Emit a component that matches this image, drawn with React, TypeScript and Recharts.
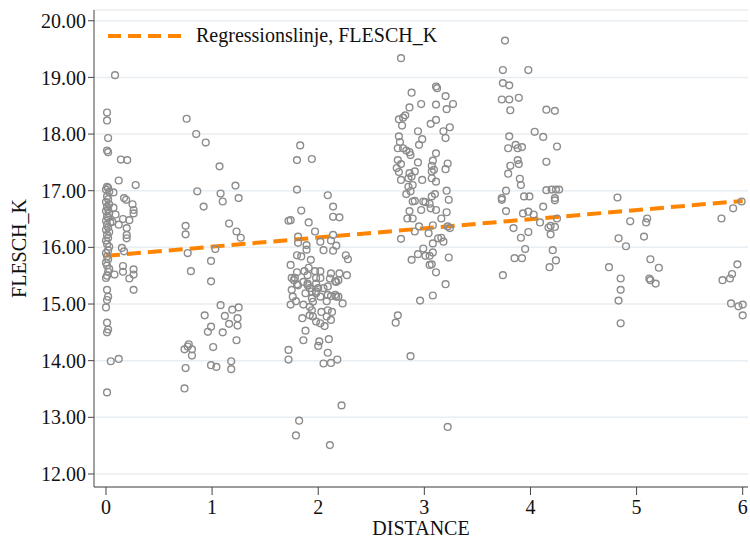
import React from 'react';
import {
  CartesianGrid,
  Legend,
  ReferenceLine,
  Scatter,
  ScatterChart,
  XAxis,
  YAxis,
} from 'recharts';

// [DISTANCE, FLESCH_K], grouped by distance band
const dist0: [number, number][] = [
  [0.01, 18.38], [0.01, 18.24], [0.02, 17.93], [0.01, 17.71], [0.02, 17.68],
  [0.01, 17.07], [0.02, 17.05], [0.0, 17.02], [0.03, 16.98], [0.01, 16.9],
  [0.02, 16.85], [0.0, 16.8], [0.03, 16.76], [0.01, 16.72], [0.02, 16.67],
  [0.0, 16.64], [0.03, 16.6], [0.01, 16.55], [0.02, 16.52], [0.0, 16.47],
  [0.04, 16.44], [0.01, 16.4], [0.02, 16.35], [0.0, 16.31], [0.03, 16.27],
  [0.01, 16.22], [0.02, 16.17], [0.0, 16.12], [0.01, 16.06], [0.03, 16.01],
  [0.02, 15.95], [0.0, 15.9], [0.01, 15.84], [0.02, 15.79], [0.0, 15.73],
  [0.01, 15.68], [0.03, 15.62], [0.02, 15.57], [0.01, 15.5], [0.0, 15.46],
  [0.01, 15.25], [0.02, 15.13], [0.01, 15.07], [0.0, 14.94], [0.01, 14.67],
  [0.02, 14.55], [0.01, 14.5], [0.01, 13.44],
  [0.085, 19.04], [0.14, 17.55], [0.2, 17.54], [0.12, 17.18], [0.28, 17.1],
  [0.07, 16.97], [0.17, 16.87], [0.19, 16.84], [0.25, 16.76], [0.26, 16.66],
  [0.26, 16.6], [0.07, 16.7], [0.22, 16.48], [0.16, 16.5], [0.195, 16.34],
  [0.195, 16.22], [0.195, 16.16], [0.09, 16.58], [0.12, 16.4], [0.06, 16.45],
  [0.15, 15.99], [0.17, 15.93], [0.16, 15.67], [0.16, 15.57], [0.26, 15.61],
  [0.26, 15.52], [0.22, 15.45], [0.08, 15.52], [0.26, 15.25], [0.045, 13.99],
  [0.12, 14.03],
];

const dist1: [number, number][] = [
  [0.76, 18.27], [0.85, 18.0], [0.94, 17.85], [1.07, 17.43], [0.86, 16.99],
  [1.08, 16.95], [1.1, 16.81], [1.22, 17.09], [1.25, 16.87], [0.92, 16.72],
  [0.75, 16.38], [0.75, 16.23], [1.16, 16.42], [1.23, 16.28], [1.27, 16.17],
  [0.77, 15.9], [1.03, 15.97], [0.99, 15.76], [0.8, 15.58], [0.99, 15.4],
  [1.08, 14.98], [0.93, 14.8], [1.19, 14.9], [1.25, 14.94], [1.12, 14.79],
  [1.24, 14.75], [1.24, 14.62], [1.16, 14.65], [0.99, 14.6], [0.96, 14.51],
  [1.1, 14.5], [1.01, 14.24], [1.23, 14.36], [0.78, 14.29], [0.77, 14.25],
  [0.74, 14.2], [0.81, 14.2], [0.81, 14.09], [0.75, 13.87], [0.74, 13.51],
  [0.99, 13.92], [1.04, 13.89], [1.18, 13.99], [1.18, 13.85],
];

const dist2: [number, number][] = [
  [1.83, 17.8], [1.8, 17.54], [1.94, 17.56], [1.8, 17.02], [2.09, 16.92],
  [2.14, 16.72], [2.14, 16.54], [2.2, 16.53], [1.84, 16.65], [1.74, 16.48],
  [1.91, 16.44], [1.97, 16.28], [1.81, 16.19], [1.81, 16.08], [1.89, 16.04],
  [1.89, 15.96], [2.02, 16.1], [2.12, 16.12], [2.14, 16.22], [2.17, 16.03],
  [2.05, 15.95], [2.14, 15.94], [2.26, 15.86], [2.28, 15.79], [1.8, 15.86],
  [1.84, 15.84], [1.93, 15.78],
  [1.74, 15.69], [1.8, 15.56], [1.75, 15.46], [1.78, 15.46], [1.8, 15.35],
  [1.75, 15.25], [1.76, 15.13], [1.87, 15.58], [1.91, 15.64], [1.9, 15.51],
  [1.97, 15.58], [2.02, 15.58], [1.98, 15.46], [2.02, 15.46], [1.86, 15.39],
  [1.9, 15.36], [1.92, 15.28], [1.94, 15.22], [1.98, 15.22], [2.05, 15.28],
  [2.12, 15.54], [2.2, 15.54], [2.27, 15.51], [2.11, 15.45], [2.17, 15.39],
  [2.09, 15.31], [2.16, 15.16], [2.19, 15.13],
  [1.74, 14.99], [1.79, 15.05], [1.86, 14.99], [1.88, 15.19], [1.9, 15.33],
  [1.94, 15.1], [1.95, 15.04], [1.92, 14.95], [1.94, 14.89], [1.98, 15.19],
  [2.02, 15.13], [1.95, 14.78], [1.92, 14.8], [1.98, 14.69], [2.02, 14.66],
  [2.06, 14.61], [1.85, 14.75], [2.03, 14.86], [2.09, 14.89], [2.13, 14.86],
  [2.08, 14.78], [2.12, 14.72], [2.09, 15.16], [2.12, 15.14], [2.17, 15.13],
  [2.08, 15.05], [2.23, 15.01], [2.16, 15.4], [2.19, 15.42], [1.77, 15.42],
  [1.81, 15.33], [2.0, 15.28], [1.98, 15.36],
  [1.72, 16.47], [1.72, 14.19], [1.72, 14.02],
  [1.88, 14.53], [1.86, 14.36], [2.1, 14.38], [2.01, 14.34], [2.0, 14.26],
  [2.09, 14.14], [2.05, 13.95], [2.12, 13.96], [2.18, 14.02], [2.22, 13.21],
  [1.82, 12.94], [1.79, 12.68], [2.11, 12.51],
];

const dist3: [number, number][] = [
  [2.78, 19.34], [3.11, 18.84], [3.12, 18.81], [2.88, 18.73], [3.2, 18.67],
  [2.97, 18.53], [3.11, 18.52], [2.86, 18.47], [3.27, 18.53], [3.21, 18.44],
  [2.76, 18.26], [2.8, 18.29], [2.82, 18.33], [2.79, 18.15], [3.06, 18.18],
  [3.11, 18.25], [3.24, 18.12], [3.18, 18.05], [3.2, 17.93], [2.94, 18.05],
  [2.98, 17.91], [2.95, 17.81], [2.76, 17.96], [2.77, 17.86], [2.75, 17.75],
  [2.8, 17.75], [2.83, 17.71], [2.86, 17.68], [2.87, 17.63], [3.11, 17.66],
  [2.75, 17.54], [2.78, 17.47], [2.74, 17.4], [2.76, 17.33], [2.94, 17.5],
  [3.08, 17.53], [3.07, 17.44], [3.09, 17.37], [3.22, 17.48], [3.2, 17.38],
  [2.78, 17.19], [2.86, 17.31], [2.88, 17.25], [2.85, 17.22], [2.91, 17.34],
  [3.07, 17.34], [2.98, 17.19], [3.07, 17.22], [3.11, 17.16], [2.89, 17.1],
  [2.85, 17.07], [2.87, 16.99], [2.83, 16.94], [3.21, 17.0], [2.91, 16.82],
  [2.89, 16.81], [3.1, 16.94], [3.07, 16.9], [3.01, 16.8], [3.05, 16.77],
  [2.99, 16.81], [3.23, 16.84], [2.97, 16.66], [3.06, 16.69], [3.11, 16.66],
  [2.86, 16.64], [2.84, 16.51], [2.89, 16.51], [3.21, 16.62], [3.16, 16.51],
  [2.95, 16.37], [3.08, 16.39], [3.22, 16.37], [2.91, 16.28], [3.04, 16.25],
  [3.24, 16.34], [2.78, 16.15], [3.13, 16.16], [3.16, 16.17], [3.18, 16.1],
  [3.08, 16.07], [2.99, 15.98], [2.94, 15.88], [3.01, 15.85], [3.08, 15.91],
  [3.05, 15.85], [3.07, 15.7], [3.05, 15.69], [3.11, 15.56], [3.23, 15.82],
  [2.88, 15.78], [3.2, 15.35], [2.96, 15.06], [3.08, 15.15], [2.75, 14.8],
  [2.73, 14.67], [2.87, 14.08], [3.22, 12.83],
];

const dist4: [number, number][] = [
  [3.76, 19.65], [3.74, 19.13], [3.98, 19.13], [3.74, 18.9], [3.8, 18.86],
  [3.73, 18.61], [3.8, 18.61], [3.89, 18.64], [3.81, 18.42], [4.15, 18.43],
  [4.23, 18.41], [3.8, 17.96], [4.04, 18.04], [4.12, 17.95], [4.25, 17.78],
  [3.79, 17.75], [3.86, 17.81], [3.88, 17.75], [3.92, 17.77], [3.88, 17.54],
  [3.89, 17.47], [3.81, 17.44], [4.15, 17.51], [3.79, 17.3], [3.9, 17.21],
  [3.91, 17.1], [3.77, 17.0], [4.15, 17.01], [4.2, 17.02], [4.24, 17.02],
  [4.27, 17.02], [3.73, 16.87], [3.94, 16.9], [3.99, 16.9], [4.23, 16.87],
  [3.73, 16.84], [4.23, 16.83], [4.12, 16.72], [3.77, 16.64], [3.93, 16.6],
  [3.98, 16.63], [4.03, 16.58], [4.09, 16.44], [4.25, 16.51], [4.17, 16.35],
  [4.19, 16.38], [4.23, 16.36], [3.84, 16.34], [3.98, 16.27], [3.91, 16.17],
  [4.19, 16.23], [3.95, 15.97], [4.21, 15.95], [3.85, 15.81], [3.92, 15.81],
  [4.24, 15.77], [4.18, 15.65], [3.74, 15.51],
];

const dist5: [number, number][] = [
  [4.82, 16.88], [4.94, 16.46], [5.1, 16.51], [5.09, 16.44], [4.83, 16.16],
  [4.9, 16.02], [5.07, 16.19], [5.13, 15.79], [5.21, 15.64], [4.74, 15.65],
  [4.85, 15.45], [5.12, 15.45], [5.13, 15.42], [5.18, 15.36], [4.85, 15.25],
  [4.83, 15.06], [4.85, 14.66],
];

const dist6: [number, number][] = [
  [5.8, 16.51], [5.91, 16.69], [5.99, 16.81], [5.95, 15.7], [5.9, 15.53],
  [5.88, 15.45], [5.81, 15.42], [5.89, 15.01], [5.96, 14.96], [6.0, 14.99],
  [6.0, 14.8],
];

// fitted line end points
const regX = [0, 6];
const regY = [15.85, 16.82];

const xTicks = [0, 1, 2, 3, 4, 5, 6];
const yTicks = [12, 13, 14, 15, 16, 17, 18, 19, 20];

const points = [...dist0, ...dist1, ...dist2, ...dist3, ...dist4, ...dist5, ...dist6].map(
  ([distance, flesch]) => ({ distance, flesch })
);

const FONT = '"Liberation Serif", "Times New Roman", serif';
const ORANGE = '#ff8400';

const Ring = (props: any) => {
  const { cx, cy } = props;
  if (cx == null || cy == null) return null;
  return <circle cx={cx} cy={cy} r={3.4} fill="none" stroke="#8c8c8c" strokeWidth={1.4} />;
};

const LegendContent = () => (
  <div style={{ display: 'flex', alignItems: 'center', fontFamily: FONT, fontSize: 20, color: '#111' }}>
    <svg width={78} height={10}>
      <line x1={2} y1={5} x2={76} y2={5} stroke={ORANGE} strokeWidth={4} strokeDasharray="13 7" />
    </svg>
    <span style={{ marginLeft: 12, whiteSpace: 'nowrap' }}>Regressionslinje, FLESCH_K</span>
  </div>
);

const App: React.FC = () => {
  return (
    <div style={{ position: 'absolute', left: 0, top: 0, width: 750, height: 539, background: '#fff' }}>
      <ScatterChart width={750} height={539} margin={{ top: 10, right: 2, bottom: 0, left: 0 }}>
        <CartesianGrid horizontal vertical={false} stroke="#e8eef2" strokeWidth={1.5} />
        <XAxis
          type="number"
          dataKey="distance"
          domain={[-0.113, 6.05]}
          ticks={xTicks}
          allowDataOverflow
          height={52}
          tickSize={8}
          tickMargin={5}
          stroke="#444"
          tick={{ fill: '#111', fontSize: 20, fontFamily: FONT }}
          label={{ value: 'DISTANCE', position: 'insideBottom', offset: 4, fill: '#111', fontSize: 20, fontFamily: FONT }}
        />
        <YAxis
          type="number"
          dataKey="flesch"
          domain={[11.77, 20.19]}
          ticks={yTicks}
          allowDataOverflow
          width={94}
          tickSize={6}
          tickMargin={2}
          stroke="#444"
          tickFormatter={(v: number) => v.toFixed(2)}
          tick={{ fill: '#111', fontSize: 20, fontFamily: FONT }}
          label={{
            value: 'FLESCH_K',
            angle: -90,
            position: 'insideLeft',
            offset: 19,
            style: { textAnchor: 'middle' },
            fill: '#111',
            fontSize: 20,
            fontFamily: FONT,
          }}
        />
        <Legend
          layout="vertical"
          align="center"
          verticalAlign="middle"
          content={<LegendContent />}
          wrapperStyle={{ left: 106, top: 24, width: 'auto', height: 'auto' }}
        />
        <Scatter data={points} shape={<Ring />} isAnimationActive={false} />
        <ReferenceLine
          segment={[
            { x: regX[0], y: regY[0] },
            { x: regX[1], y: regY[1] },
          ]}
          stroke={ORANGE}
          strokeWidth={4}
          strokeDasharray="14 7"
        />
      </ScatterChart>
    </div>
  );
};

export default App;
